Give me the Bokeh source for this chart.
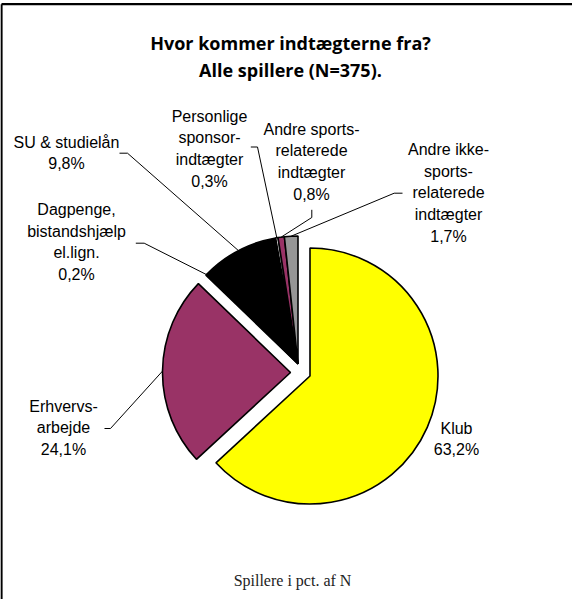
import math
from bokeh.plotting import figure
from bokeh.models import Range1d, ColumnDataSource
from bokeh.core.properties import value
from bokeh.embed import file_html
from bokeh.resources import INLINE

# ---------------- data ----------------
title_lines = ["Hvor kommer indtægterne fra?", "Alle spillere (N=375)."]
categories = ["Klub", "Erhvervsarbejde", "Dagpenge, bistandshjælp el.lign.",
              "SU & studielån", "Personlige sponsorindtægter",
              "Andre sportsrelaterede indtægter",
              "Andre ikke-sportsrelaterede indtægter"]
label_lines = [["Klub"], ["Erhvervs-", "arbejde"],
               ["Dagpenge,", "bistandshjælp", "el.lign."],
               ["SU & studielån"], ["Personlige", "sponsor-", "indtægter"],
               ["Andre sports-", "relaterede", "indtægter"],
               ["Andre ikke-", "sports-", "relaterede", "indtægter"]]
shares = [63.2, 24.1, 0.2, 9.8, 0.3, 0.8, 1.7]
pct_labels = ["63,2%", "24,1%", "0,2%", "9,8%", "0,3%", "0,8%", "1,7%"]
footer = "Spillere i pct. af N"

# ---------------- style / layout ----------------
colors = ["#FFFF00", "#993366", "#FFFFFF", "#000000", "#FFFFFF", "#993366", "#969696"]
W, H = 572, 599
def Y(py):               # page y (down) -> data y (up)
    return 615 - py

CX, CY, R = 305.5, 371.5, 128          # pie centre in page pixels
explode = [(12, 12), (-7.5, 8.5), (0, 0), (0, 0), (0, 0), (0, 0), (0, 0)]
label_pos = [(464, 435.5), (71, 413.5), (84, 217), (74, 149.5),
             (217, 123.5), (319, 136.7), (456, 157)]
leader_start = [None,
                [(112, 436), (118, 436)],
                [(143.3, 250.7), (151.7, 250.7)],
                [(127, 160.7), (135, 160.7)],
                [(258.3, 154.5), (265, 154.5)],
                [(319.3, 217.3), (319.3, 225)],
                [(410, 200.7), (401.7, 200.7)]]
PITCH = 21.7
LABEL_FONT = "Liberation Sans"

p = figure(width=W, height=H, x_range=Range1d(8, 8 + W), y_range=Range1d(8, 8 + H),
           output_backend="svg", toolbar_location=None, min_border=0,
           x_axis_type=None, y_axis_type=None)
p.grid.visible = False
p.outline_line_color = None
p.background_fill_color = "white"
p.border_fill_color = "white"

# frame (left & top edges visible)
p.line(x=[9, 9], y=[Y(11.7), 0], line_color="black", line_width=2.2)
p.line(x=[9, 600], y=[Y(11.7), Y(11.7)], line_color="black", line_width=2.2)

# ---------------- pie ----------------
total = sum(shares)
cum = 0.0
wx, wy, sa, ea, mids = [], [], [], [], []
for v, (dx, dy) in zip(shares, explode):
    a0 = cum / total * 2 * math.pi
    cum += v
    a1 = cum / total * 2 * math.pi
    sa.append(math.pi / 2 - a1)
    ea.append(math.pi / 2 - a0)
    mids.append((a0 + a1) / 2)
    wx.append(CX + dx)
    wy.append(Y(CY + dy))

src = ColumnDataSource(dict(x=wx, y=wy, start=sa, end=ea, color=colors, cat=categories))
p.wedge(x="x", y="y", radius=R, start_angle="start", end_angle="end",
        direction="anticlock", fill_color="color", line_color="black",
        line_width=1.6, source=src)

# leader lines
for i, pts in enumerate(leader_start):
    if pts is None:
        continue
    dx, dy = explode[i]
    rx = CX + dx + R * math.sin(mids[i])
    ry = CY + dy - R * math.cos(mids[i])
    xs = [q[0] for q in pts] + [rx]
    ys = [Y(q[1]) for q in pts] + [Y(ry)]
    p.line(x=xs, y=ys, line_color="black", line_width=1)

# labels
tx, ty, tt = [], [], []
for i, lines in enumerate(label_lines):
    cx, y0 = label_pos[i]
    for k, s in enumerate(lines + [pct_labels[i]]):
        tx.append(cx)
        ty.append(Y(y0 + k * PITCH))
        tt.append(s)
p.text(x=tx, y=ty, text=tt, text_align="center", text_baseline="middle",
       text_font=value(LABEL_FONT), text_font_size="16px", text_color="black")

# title
p.text(x=[298, 298], y=[Y(50), Y(77)], text=title_lines, text_align="center",
       text_baseline="alphabetic", text_font=value("Open Sans"),
       text_font_style="bold", text_font_size="18px", text_color="black")

# footer
p.text(x=[300], y=[Y(588)], text=[footer], text_align="center",
       text_baseline="middle", text_font=value("Liberation Serif"),
       text_font_size="16px", text_color="#222222")

open("out.html", "w").write(file_html(p, INLINE))
